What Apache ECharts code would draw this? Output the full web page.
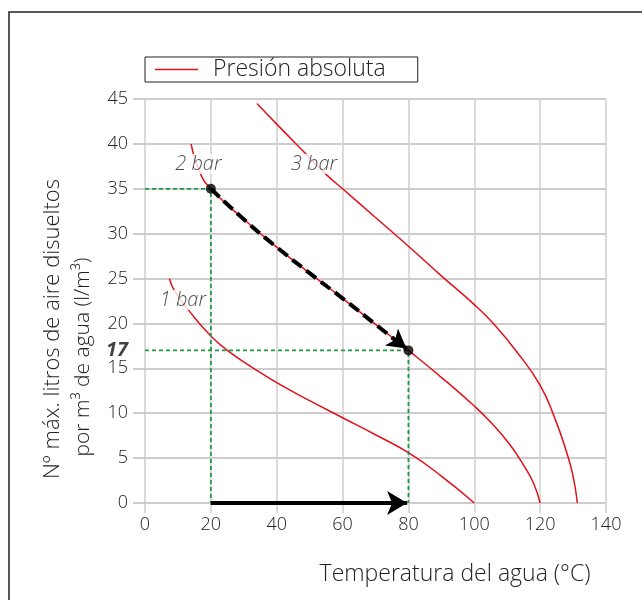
<!DOCTYPE html>
<html>
<head>
<meta charset="utf-8">
<script src="https://cdn.jsdelivr.net/npm/echarts@6/dist/echarts.min.js"></script>
<style>
  html, body { margin: 0; padding: 0; background: #fff; }
  #chart { width: 642px; height: 600px; }
</style>
</head>
<body>
<div id="chart"></div>
<script>
// curvas de presión absoluta (temperatura °C, litros/m3)
const bar1 = [[7.4, 25], [9, 23.6], [13.4, 21.4], [20, 18.6], [25, 17], [33, 15], [40, 13.4], [50, 11.4],
  [60, 9.5], [70, 7.6], [80, 5.6], [90, 3], [100, 0]];
const bar2 = [[14, 40], [16.7, 36.8], [20, 35], [30, 31.6], [40, 28.5], [50, 25.6], [60, 22.8], [70, 19.9],
  [80, 17], [90, 14], [100, 10.8], [106, 8.6], [111, 6.4], [115, 4.2], [118, 2.2], [120, 0]];
const bar3 = [[34, 44.5], [40, 42.2], [48, 39.2], [55, 36.6], [60, 35], [70, 31.8], [80, 28.6], [90, 25.3],
  [100, 22.1], [106, 19.9], [113, 16.8], [120, 13.1], [124.5, 9.4], [128, 5.7], [130, 3], [131.3, 0]];

// ejemplo: de 20 °C / 35 l a 80 °C / 17 l
const guide35 = [[0, 35], [20, 35], [20, 0]];
const guide17 = [[0, 17], [80, 17], [80, 0]];
const pathDashed = [[20, 35], [30, 31.6], [40, 28.5], [50, 25.6], [60, 22.8], [70, 19.9], [75.5, 18.3]];
const arrowCurve = [[75, 18.45], [79.4, 17.2]];
const arrowAxis = [[20, 0], [79.6, 0]];
const dots = [[20, 35], [80, 17]];

const curveLabels = [
  { value: [11.5, 22.6], name: '1 bar' },
  { value: [16.2, 37.75], name: '2 bar' },
  { value: [51.3, 37.75], name: '3 bar' }
];

const xTicks = [0, 20, 40, 60, 80, 100, 120, 140];
const yTicks = [0, 5, 10, 15, 20, 25, 30, 35, 40, 45];

const FONT = '"Open Sans"';
const RED = '#e3101c';
const GREEN = '#1f9a48';

const chart = echarts.init(document.getElementById('chart'));

function redCurve(data) {
  return {
    name: 'Presión absoluta',
    type: 'line',
    data: data,
    smooth: 0.5,
    symbol: 'none',
    lineStyle: { color: RED, width: 1.5 },
    itemStyle: { color: RED },
    z: 3
  };
}

const option = {
  animation: false,
  grid: { left: 145, right: 36, top: 99, bottom: 97 },
  legend: {
    data: [{ name: 'Presión absoluta', icon: 'rect' }],
    left: 145,
    top: 57,
    orient: 'horizontal',
    padding: [1, 32, 1, 10],
    itemWidth: 43,
    itemHeight: 1.5,
    borderColor: '#222',
    borderWidth: 1,
    borderRadius: 0,
    textStyle: { fontFamily: FONT, fontWeight: 300, fontSize: 23, color: '#222', padding: [0, 0, 0, 10] }
  },
  xAxis: {
    type: 'value',
    min: 0,
    max: 140,
    interval: 20,
    axisLine: { show: false },
    axisTick: { show: true, length: 10, lineStyle: { color: '#cfcfcf', width: 1.5 } },
    splitLine: { show: true, lineStyle: { color: '#cfcfcf', width: 1.5 } },
    axisLabel: {
      margin: 13, fontFamily: FONT, fontWeight: 300, fontSize: 18, color: '#222',
      customValues: xTicks
    }
  },
  yAxis: {
    type: 'value',
    min: 0,
    max: 45,
    interval: 5,
    axisLine: { show: false },
    axisTick: { show: true, length: 12, lineStyle: { color: '#bdbdbd', width: 1.5 } },
    splitLine: { show: true, lineStyle: { color: '#bdbdbd', width: 1.5 } },
    axisLabel: {
      margin: 17, fontFamily: FONT, fontWeight: 300, fontSize: 18, color: '#222',
      customValues: yTicks
    }
  },
  graphic: [
    {
      type: 'rect', silent: true,
      shape: { x: 9, y: 12, width: 800, height: 800 },
      style: { fill: 'none', stroke: '#222', lineWidth: 1.5 }
    },
    {
      type: 'text', x: 53, y: 329, rotation: Math.PI / 2,
      style: {
        text: 'Nº máx. litros de aire disueltos', fontFamily: FONT, fontWeight: 300, fontSize: 22,
        fill: '#222', align: 'center', verticalAlign: 'middle'
      }
    },
    {
      type: 'text', x: 83, y: 357, rotation: Math.PI / 2,
      style: {
        text: 'por m³ de agua (l/m³)', fontFamily: FONT, fontWeight: 300, fontSize: 21,
        fill: '#222', align: 'center', verticalAlign: 'middle'
      }
    },
    {
      type: 'text', x: 455, y: 574,
      style: {
        text: 'Temperatura del agua (°C)', fontFamily: FONT, fontWeight: 300, fontSize: 23,
        fill: '#222', align: 'center', verticalAlign: 'middle'
      }
    }
  ],
  series: [
    redCurve(bar1),
    redCurve(bar2),
    redCurve(bar3),
    {
      type: 'line', data: guide35, symbol: 'none', silent: true,
      lineStyle: { color: GREEN, width: 1.8, type: [4, 3] }, z: 4
    },
    {
      type: 'line', data: guide17, symbol: 'none', silent: true,
      lineStyle: { color: GREEN, width: 1.8, type: [4, 3] }, z: 4
    },
    {
      type: 'line', data: pathDashed, smooth: 0.5, symbol: 'none', silent: true,
      lineStyle: { color: '#000', width: 4, type: [12, 6] }, z: 5,
      markLine: {
        silent: true,
        symbol: ['none', 'arrow'],
        symbolSize: [16, 19],
        label: { show: false },
        lineStyle: { color: '#000', width: 4, type: 'solid' },
        data: [[{ coord: arrowCurve[0] }, { coord: arrowCurve[1] }]]
      }
    },
    {
      type: 'line', data: arrowAxis, symbol: 'none', silent: true,
      lineStyle: { color: '#000', width: 4 }, z: 5,
      markLine: {
        silent: true,
        symbol: ['none', 'arrow'],
        symbolSize: [18, 20],
        label: { show: false },
        lineStyle: { color: '#000', width: 4, type: 'solid' },
        data: [[{ coord: arrowAxis[0] }, { coord: arrowAxis[1] }]]
      }
    },
    {
      type: 'scatter', data: dots, symbol: 'circle', symbolSize: 10,
      itemStyle: { color: '#000' }, z: 6, silent: true
    },
    {
      type: 'scatter', data: [[0, 17]], symbolSize: 0, silent: true, z: 7,
      label: {
        show: true, position: 'left', distance: 17, formatter: '17',
        fontFamily: FONT, fontSize: 20, fontWeight: 'bold', fontStyle: 'italic', color: '#111'
      }
    },
    {
      type: 'scatter', data: curveLabels, symbolSize: 0, silent: true, z: 8,
      label: {
        show: true, position: 'inside', formatter: '{b}',
        fontFamily: FONT, fontWeight: 300, fontSize: 20, fontStyle: 'italic', color: '#1a1a1a',
        backgroundColor: '#fff', padding: [0, 2]
      }
    }
  ]
};

chart.setOption(option);
</script>
</body>
</html>
